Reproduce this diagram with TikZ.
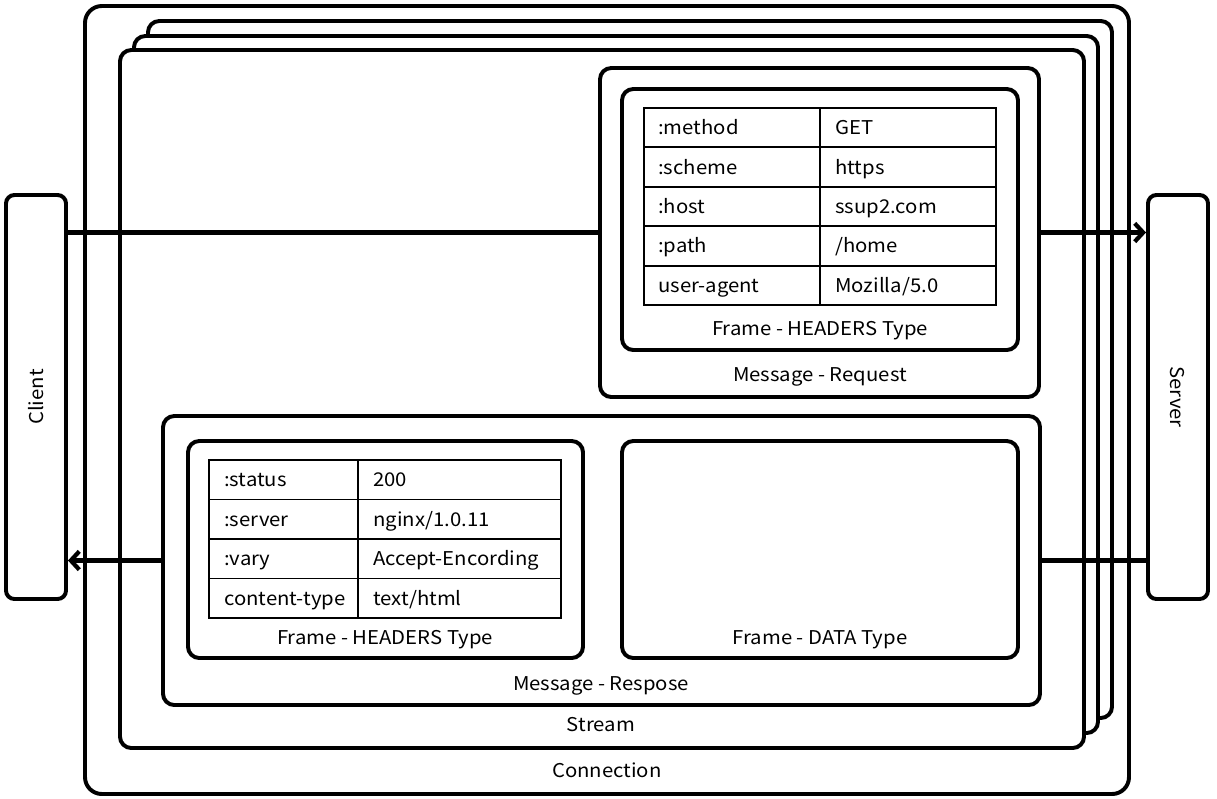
\documentclass[tikz,border=0pt]{standalone}
\usepackage{fontspec}
\setmainfont[FakeStretch=1.07]{Noto Sans CJK KR}
\usetikzlibrary{arrows.meta,backgrounds,fit,positioning}

\begin{document}
\begin{tikzpicture}[x=0.025cm,y=-0.025cm,font=\fontsize{13.5}{16}\selectfont,
	box/.style={draw,line width=2.8pt,rounded corners=8pt,inner sep=0pt,fill=white},
	tbl/.style={line width=1.4pt},
	cell/.style={anchor=west,inner sep=0pt,text height=12pt,text depth=2pt},
	lbl/.style={inner sep=0pt,text height=12pt,text depth=2pt},
	arr/.style={line width=3.3pt,-{Straight Barb[length=6pt,width=13pt,line width=3pt]}}]
	\useasboundingbox (0,0) rectangle (1217,798);
	% endpoints
	\node[box,rounded corners=6pt,fit={(6,195) (66,599)}] (client) {};
	\node[lbl,rotate=90] (clientlbl) at (client) {Client};
	\node[box,rounded corners=6pt,fit={(1148,195) (1208,599)}] (server) {};
	\node[lbl,rotate=-90] (serverlbl) at (server) {Server};
	% messages
	\node[box,fit={(600,68) (1039,397)}] (reqmsg) {};
	\node[lbl] (reqmsglbl) at (820,374) {Message - Request};
	\node[box,fit={(622,89) (1018,350)}] (reqhdr) {};
	\node[lbl] (reqhdrlbl) at (820,328) {Frame - HEADERS Type};
	\node[box,fit={(163,416) (1040,705)}] (resmsg) {};
	\node[lbl] (resmsglbl) at (601,683) {Message - Respose};
	\node[box,fit={(188,441) (583,658)}] (reshdr) {};
	\node[lbl] (reshdrlbl) at (385,637) {Frame - HEADERS Type};
	\node[box,fit={(622,441) (1018,658)}] (resdata) {};
	\node[lbl] (resdatalbl) at (820,637) {Frame - DATA Type};
	% request header table
	\draw[tbl] (644,108) rectangle (996,305);
	\draw[tbl] (820,108) -- (820,305);
	\foreach \r in {1,...,4}
		\draw[tbl] (644,108+39.4*\r) -- (996,108+39.4*\r);
	\foreach \k/\v [count=\i] in {:method/GET,:scheme/https,:host/ssup2.com,:path/{/home},user-agent/{Mozilla/5.0}} {
		\node[cell] (rqk\i) at (658,88.3+39.4*\i) {\k};
		\node[cell] (rqv\i) at (835,88.3+39.4*\i) {\v};
	}
	% response header table
	\draw[tbl] (209,460) rectangle (561,618);
	\draw[tbl] (358,460) -- (358,618);
	\foreach \r in {1,...,3}
		\draw[tbl] (209,460+39.5*\r) -- (561,460+39.5*\r);
	\foreach \k/\v [count=\i] in {:status/200,:server/{nginx/1.0.11},:vary/Accept-Encording,content-type/{text/html}} {
		\node[cell] (rsk\i) at (224,440.25+39.5*\i) {\k};
		\node[cell] (rsv\i) at (373,440.25+39.5*\i) {\v};
	}
	\begin{scope}[on background layer]
		\node[box,rounded corners=12pt,fit={(85,6) (1129,794)}] (conn) {};
		\node[lbl] (connlbl) at (607,770) {Connection};
		\node[box,fit={(148,21) (1112,718)}] (strm3) {};
		\node[box,fit={(134,36) (1098,733)}] (strm2) {};
		\node[box,fit={(120,50) (1084,748)}] (strm) {};
		\node[lbl] (strmlbl) at (601,724) {Stream};
		\draw[arr] (client.east |- reqmsg.west) -- (server.west |- reqmsg.west);
		\draw[arr] (server.west |- resmsg.east) -- (client.east |- resmsg.east);
	\end{scope}
\end{tikzpicture}
\end{document}
